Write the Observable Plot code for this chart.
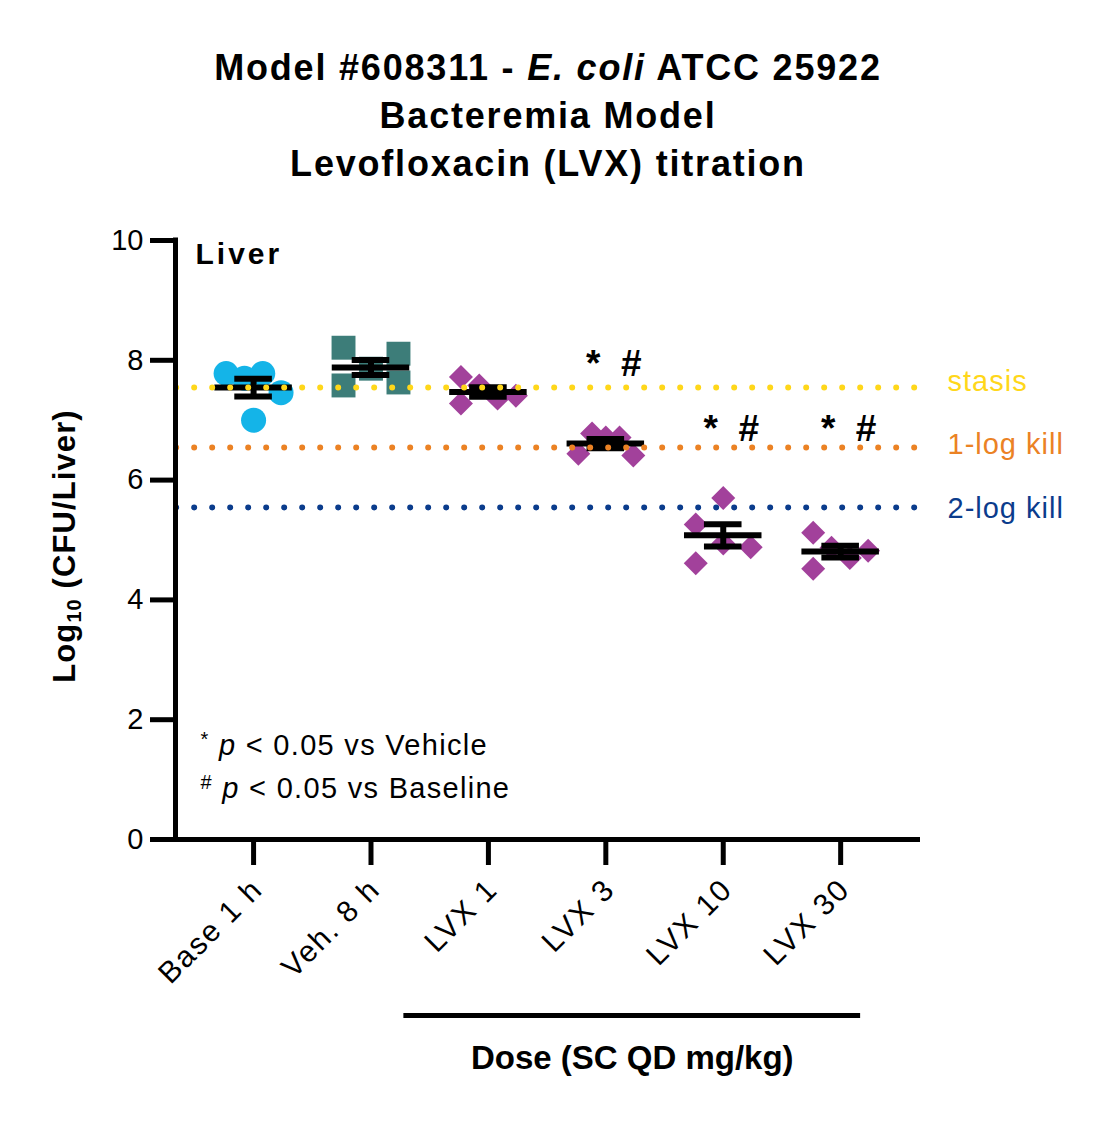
<!DOCTYPE html>
<html>
<head>
<meta charset="utf-8">
<script src="https://cdn.jsdelivr.net/npm/d3@7"></script>
<script src="https://cdn.jsdelivr.net/npm/@observablehq/plot@0.6"></script>
<style>
  html, body { margin: 0; padding: 0; background: #fff; }
  body { width: 1119px; height: 1121px; overflow: hidden; font-family: "Liberation Sans", Arial, sans-serif; }
  #title { width: 1096px; height: 188px; box-sizing: border-box; padding-top: 44px; text-align: center;
           font-weight: bold; font-size: 36px; line-height: 48px; letter-spacing: 1.8px; color: #000; }
</style>
</head>
<body>
<div id="title">Model #608311 - <i>E. coli</i> ATCC 25922<br>Bacteremia Model<br>Levofloxacin (LVX) titration</div>
<div id="chart"></div>
<script>
// ---------- data ----------
const categories = ["Base 1 h", "Veh. 8 h", "LVX 1", "LVX 3", "LVX 10", "LVX 30"];
const base1h = [7.78, 7.70, 7.78, 7.46, 7.00];
const veh8h  = [8.21, 7.86, 7.58, 8.11, 7.63];
const lvx1   = [7.72, 7.58, 7.28, 7.36, 7.41];
const lvx3   = [6.44, 6.78, 6.71, 6.71, 6.41];
const lvx10  = [5.70, 5.26, 4.94, 4.88, 4.61];
const lvx30  = [5.12, 4.87, 4.70, 4.82, 4.52];
const significance = ["", "", "", "*\u00A0\u00A0#", "*\u00A0\u00A0#", "*\u00A0\u00A0#"];
const yTicks = [0, 2, 4, 6, 8, 10];
const killLogs = [0, 1, 2];
const killLabels = ["stasis", "1-log kill", "2-log kill"];
const doseGroup = ["LVX 1", "LVX 30"];
const doseLabel = "Dose (SC QD mg/kg)";
const organ = "Liver";
const footnotes = ["* p < 0.05 vs Vehicle", "# p < 0.05 vs Baseline"];
const yLabel = "Log10 (CFU/Liver)";

// ---------- styles ----------
const groupValues = [base1h, veh8h, lvx1, lvx3, lvx10, lvx30];
const groupSymbol = ["circle", "square", "diamond2", "diamond2", "diamond2", "diamond2"];
const groupFill = ["#14B4E8", "#3D7D79", "#A2419B", "#A2419B", "#A2419B", "#A2419B"];
const groupR = [12.5, 13.5, 10.8, 10.8, 10.8, 10.8];
const killColors = ["#FFD71A", "#EB8224", "#0B3C8C"];
const killLabelDy = [-6, -3, 1];

// ---------- derived ----------
const xDomain = [-0.665, 5.68];
const T = 0.43;        // vertical overlap threshold (value units)
const half = 0.234;    // half spread of a row (category units)

function spread(vals) {
  const order = d3.range(vals.length).sort((a, b) => vals[b] - vals[a]);
  const rows = [];
  let cur = null;
  for (const i of order) {
    if (!cur || vals[cur[0]] - vals[i] > T) { cur = [i]; rows.push(cur); }
    else cur.push(i);
  }
  const off = new Array(vals.length).fill(0);
  for (const row of rows) {
    row.sort((a, b) => a - b);
    const n = row.length;
    if (n === 1) {
      const i = row[0];
      const isolated = vals.every((v, j) => j === i || Math.abs(v - vals[i]) > T);
      off[i] = isolated ? 0 : -half;
    } else {
      row.forEach((i, k) => off[i] = -half + 2 * half * k / (n - 1));
    }
  }
  return off;
}

const points = [];
const stats = [];
groupValues.forEach((vals, g) => {
  const off = spread(vals);
  vals.forEach((v, i) => points.push({g, x: g + off[i], y: v}));
  const m = d3.mean(vals), s = d3.deviation(vals) / Math.sqrt(vals.length);
  stats.push({g, mean: m, lo: m - s, hi: m + s, max: d3.max(vals), sig: significance[g]});
});
// significance heights: neighbouring marked groups with similar maxima share a height
const marked = stats.filter(d => d.sig);
marked.forEach((d, k) => {
  let top = d.max;
  const next = marked[k + 1], prev = marked[k - 1];
  if (next && Math.abs(next.max - d.max) < 0.7) top = Math.max(top, next.max);
  if (prev && Math.abs(prev.max - d.max) < 0.7) top = Math.max(top, prev.max);
  d.sigY = top + 1.15;
});
const baseline = stats[0].mean;
const refLines = killLogs.map((k, i) => ({y: baseline - k, label: killLabels[i], color: killColors[i], i}));
const doseFrom = categories.indexOf(doseGroup[0]) - 0.72;
const doseTo = categories.indexOf(doseGroup[1]) + 0.17;
const xTicks = d3.range(categories.length);

const chart = Plot.plot({
  width: 1119,
  height: 933,
  marginTop: 52,
  marginLeft: 175,
  marginRight: 199,
  marginBottom: 282,
  style: {fontFamily: "'Liberation Sans', Arial, sans-serif", color: "#000", background: "#fff", overflow: "visible"},
  x: {type: "linear", domain: xDomain},
  y: {domain: [0, 10]},
  marks: [
    // points
    ...groupValues.map((_, g) => Plot.dot(points.filter(p => p.g === g), {
      x: "x", y: "y", symbol: groupSymbol[g], r: groupR[g], fill: groupFill[g], stroke: "none"
    })),
    // mean and SEM
    Plot.ruleY(stats, {y: "mean", x1: d => d.g - 0.33, x2: d => d.g + 0.33, strokeWidth: 6}),
    Plot.ruleX(stats, {x: "g", y1: "lo", y2: "hi", strokeWidth: 6}),
    Plot.ruleY(stats, {y: "lo", x1: d => d.g - 0.16, x2: d => d.g + 0.16, strokeWidth: 6}),
    Plot.ruleY(stats, {y: "hi", x1: d => d.g - 0.16, x2: d => d.g + 0.16, strokeWidth: 6}),
    // reference kill lines
    Plot.ruleY(refLines, {y: "y", x1: xDomain[0] + 0.01, x2: xDomain[1] + 0.09, stroke: "color",
      strokeWidth: 6, strokeDasharray: "0 18", strokeLinecap: "round", clip: false}),
    ...refLines.map(r => Plot.text([r], {y: "y", x: xDomain[1], text: "label", fill: "color", dx: 27,
      dy: killLabelDy[r.i], textAnchor: "start", fontSize: 29, clip: false})),
    // significance
    Plot.text(marked, {x: "g", y: "sigY", text: "sig", dx: 8, fontSize: 37, fontWeight: "bold"}),
    // organ label
    Plot.text([organ], {frameAnchor: "top-left", dx: 20, dy: 14, text: d => d, fontSize: 30,
      fontWeight: "bold", textAnchor: "start", lineAnchor: "middle"}),
    // footnotes
    Plot.text([footnotes[0]], {frameAnchor: "bottom-left", dx: 25, dy: -94, text: d => d,
      fontSize: 29, textAnchor: "start", lineAnchor: "middle"}),
    Plot.text([footnotes[1]], {frameAnchor: "bottom-left", dx: 25, dy: -51, text: d => d,
      fontSize: 29, textAnchor: "start", lineAnchor: "middle"}),
    // axes
    Plot.ruleY([0], {strokeWidth: 5}),
    Plot.ruleX([xDomain[0]], {y1: 0, y2: 10, strokeWidth: 5, strokeLinecap: "square"}),
    Plot.axisY({ticks: yTicks, tickSize: 25, tickPadding: 7, fontSize: 29, strokeWidth: 5, label: null}),
    Plot.axisX({ticks: xTicks, tickFormat: () => "", tickSize: 26, strokeWidth: 5, label: null}),
    Plot.axisX({ticks: xTicks, tickFormat: i => categories[i], tickSize: 0, tickPadding: 45, dx: 4,
      tickRotate: -45, fontSize: 30, label: null}),
    // dose bracket
    Plot.ruleY([0], {x1: doseFrom, x2: doseTo, dy: 176, strokeWidth: 5, clip: false}),
    Plot.text([doseLabel], {x: (doseFrom + doseTo) / 2, y: 0, dy: 219, text: d => d, fontSize: 33,
      fontWeight: "bold", clip: false}),
    // y label
    Plot.text([yLabel], {frameAnchor: "left", dx: -110, dy: 6, rotate: -90, text: d => d,
      textAnchor: "middle", fontSize: 31, fontWeight: "bold"})
  ]
});

document.getElementById("chart").appendChild(chart);

// rich-text touches (superscripts, italics, subscript) and letter spacing
d3.select(chart).selectAll("text").each(function () {
  const t = d3.select(this);
  const s = this.textContent;
  if (s === footnotes[0] || s === footnotes[1]) {
    const sym = s[0], rest = s.slice(3);
    t.text(null).style("letter-spacing", "1.3px");
    t.append("tspan").attr("font-size", 20).attr("dy", "-0.45em").text(sym);
    t.append("tspan").attr("dy", "0.32em").text("\u00A0");
    t.append("tspan").attr("font-style", "italic").text("p");
    t.append("tspan").text(rest);
  } else if (s === yLabel) {
    t.text(null).style("letter-spacing", "1.1px");
    t.append("tspan").text("Log");
    t.append("tspan").attr("font-size", 20).attr("dy", "0.3em").text("10");
    t.append("tspan").attr("dy", "-0.2em").text("\u00A0(CFU/Liver)");
  } else if (s === organ) {
    t.style("letter-spacing", "3px");
  } else if (killLabels.includes(s)) {
    t.style("letter-spacing", "1px");
  } else if (categories.includes(s)) {
    t.style("letter-spacing", "1.8px");
  }
});
</script>
</body>
</html>
